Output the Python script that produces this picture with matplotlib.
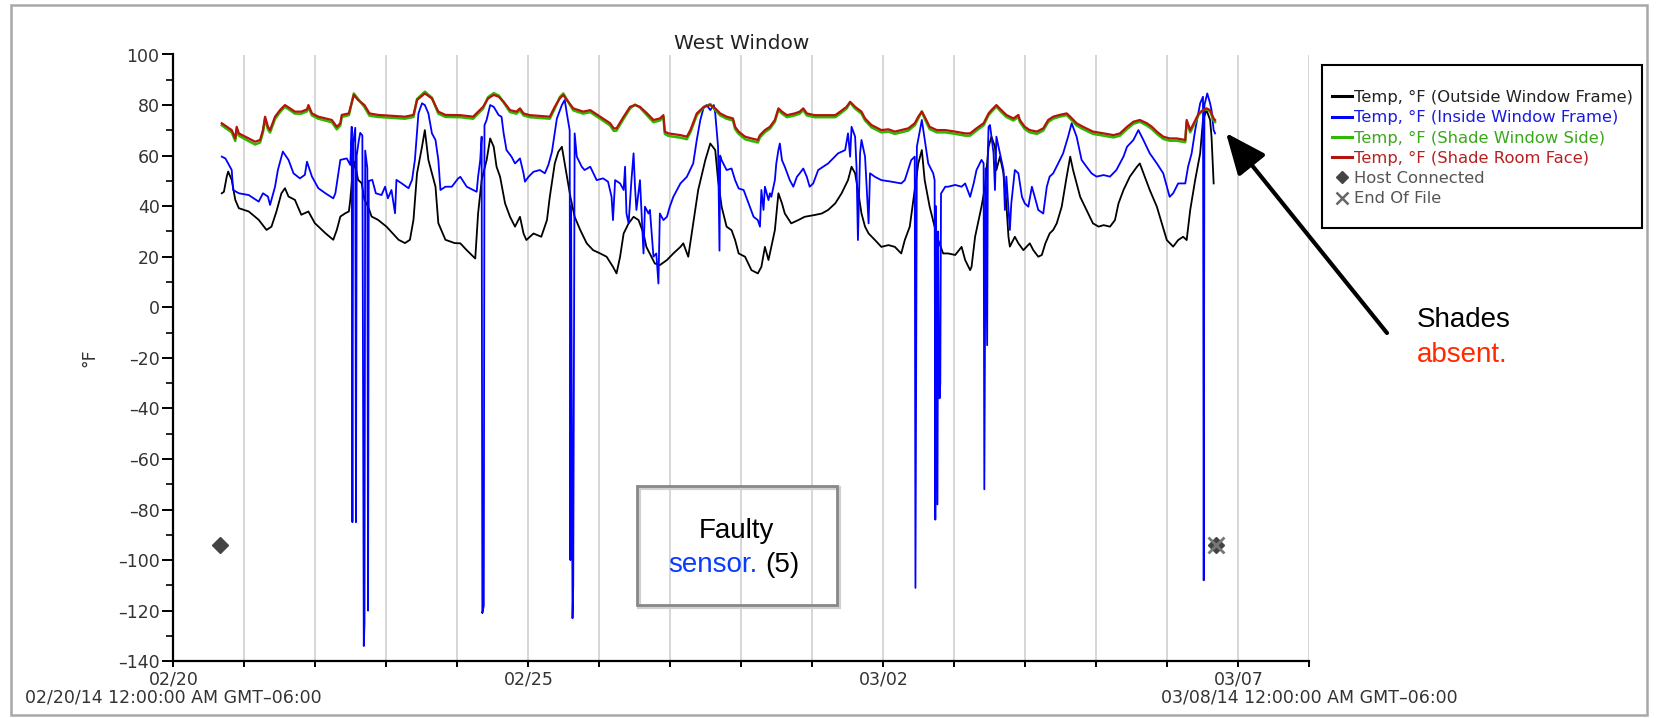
import numpy as np
import matplotlib
matplotlib.use("Agg")
import matplotlib.pyplot as plt
from matplotlib.lines import Line2D
from matplotlib.patches import Rectangle, FancyArrowPatch
from matplotlib.ticker import FixedLocator, MultipleLocator, FuncFormatter
from matplotlib.transforms import blended_transform_factory

# ---------------- data (days since 02/20/14 00:00, degrees F) ----------------
outside_days = [0.68, 0.71, 0.75, 0.77, 0.82, 0.87, 0.92, 1.06, 1.20, 1.31,
                1.38, 1.45, 1.52, 1.57, 1.62, 1.71, 1.80, 1.90, 1.99, 2.14,
                2.25, 2.30, 2.35, 2.42, 2.47, 2.49, 2.52, 2.55, 2.60, 2.65,
                2.69, 2.74, 2.79, 2.88, 3.00, 3.17, 3.26, 3.33, 3.38, 3.43,
                3.50, 3.54, 3.59, 3.69, 3.73, 3.83, 3.96, 4.04, 4.13, 4.25,
                4.29, 4.34, 4.41, 4.46, 4.51, 4.55, 4.60, 4.67, 4.74, 4.81,
                4.88, 4.93, 4.97, 5.07, 5.18, 5.26, 5.30, 5.37, 5.42, 5.47,
                5.51, 5.59, 5.65, 5.73, 5.82, 5.91, 6.01, 6.10, 6.19, 6.24,
                6.29, 6.34, 6.41, 6.48, 6.55, 6.62, 6.66, 6.73, 6.78, 6.85,
                6.95, 7.04, 7.14, 7.18, 7.25, 7.32, 7.39, 7.49, 7.56, 7.63,
                7.67, 7.72, 7.79, 7.86, 7.91, 7.96, 8.05, 8.14, 8.23, 8.28,
                8.33, 8.38, 8.42, 8.47, 8.52, 8.57, 8.61, 8.70, 8.80, 8.89,
                9.03, 9.13, 9.22, 9.32, 9.41, 9.50, 9.55, 9.60, 9.64, 9.69,
                9.74, 9.79, 9.88, 9.97, 10.07, 10.16, 10.25, 10.30, 10.37, 10.44,
                10.49, 10.54, 10.58, 10.65, 10.72, 10.77, 10.84, 10.91, 11.01, 11.10,
                11.15, 11.22, 11.24, 11.29, 11.34, 11.38, 11.43, 11.48, 11.52, 11.57,
                11.59, 11.64, 11.69, 11.73, 11.76, 11.78, 11.85, 11.90, 11.97, 12.06,
                12.11, 12.18, 12.23, 12.28, 12.34, 12.39, 12.44, 12.51, 12.58, 12.63,
                12.67, 12.77, 12.86, 12.95, 13.03, 13.10, 13.19, 13.26, 13.31, 13.38,
                13.47, 13.57, 13.61, 13.68, 13.75, 13.85, 13.92, 13.99, 14.08, 14.15,
                14.22, 14.27, 14.32, 14.39, 14.46, 14.50, 14.55, 14.60, 14.62, 14.65]
outside_vals = [45.1, 45.7, 51.7, 53.7, 50.4, 42.5, 39.2, 37.9, 34.6, 30.6,
                31.9, 37.9, 45.1, 47.1, 43.8, 42.5, 36.6, 37.9, 33.3, 29.3,
                26.7, 30.6, 35.9, 37.2, 37.9, 42.5, 52.4, 57.6, 50.4, 49.1,
                42.5, 39.9, 35.9, 34.6, 31.9, 26.7, 25.4, 26.7, 34.6, 53.0,
                63.5, 70.1, 58.3, 47.7, 33.3, 26.7, 25.4, 25.3, 22.6, 19.3,
                37.1, 50.3, 58.2, 66.8, 63.5, 55.6, 51.6, 41.1, 35.8, 31.9,
                35.8, 29.2, 26.6, 29.2, 27.9, 34.5, 43.7, 56.9, 61.5, 63.5,
                56.9, 43.7, 35.8, 30.5, 25.3, 22.6, 21.3, 20.0, 16.0, 13.4,
                20.0, 29.2, 33.2, 35.8, 34.5, 29.2, 23.9, 20.0, 17.3, 16.7,
                18.7, 21.3, 23.9, 25.3, 20.0, 33.2, 46.4, 58.2, 64.8, 62.2,
                50.3, 39.8, 31.9, 30.5, 26.6, 21.3, 20.0, 14.7, 13.4, 16.0,
                23.9, 18.7, 23.9, 30.5, 45.1, 41.1, 37.1, 33.2, 34.5, 35.8,
                36.5, 37.1, 38.5, 41.1, 45.1, 50.3, 55.6, 53.0, 46.4, 37.1,
                31.9, 29.2, 26.6, 23.9, 24.6, 23.9, 21.3, 26.6, 31.9, 46.4,
                56.9, 62.2, 50.3, 39.8, 31.9, 26.6, 21.3, 21.3, 20.7, 23.9,
                18.7, 14.7, 16.0, 27.9, 34.5, 39.8, 47.7, 63.5, 67.5, 63.5,
                54.3, 59.6, 53.0, 41.1, 27.9, 24.0, 27.9, 25.3, 22.6, 25.3,
                22.6, 20.0, 20.7, 25.3, 29.2, 30.6, 33.2, 39.8, 51.7, 59.6,
                54.3, 43.7, 38.5, 33.2, 31.9, 32.5, 31.9, 34.5, 41.1, 46.4,
                51.7, 55.6, 56.9, 51.7, 46.4, 39.8, 33.2, 26.6, 24.0, 26.6,
                27.9, 26.6, 38.5, 50.4, 60.9, 74.1, 78.0, 74.1, 67.5, 49.0]

inside_days = [0.68, 0.73, 0.77, 0.82, 0.84, 0.92, 1.06, 1.20, 1.26, 1.33,
               1.36, 1.43, 1.47, 1.54, 1.62, 1.69, 1.78, 1.85, 1.88, 1.95,
               2.04, 2.14, 2.25, 2.28, 2.35, 2.44, 2.49, 2.51, 2.52, 2.53,
               2.56, 2.57, 2.58, 2.61, 2.63, 2.66, 2.68, 2.69, 2.70, 2.73,
               2.74, 2.75, 2.80, 2.85, 2.93, 2.98, 3.02, 3.07, 3.12, 3.14,
               3.21, 3.31, 3.36, 3.40, 3.45, 3.50, 3.54, 3.59, 3.64, 3.69,
               3.73, 3.76, 3.83, 3.92, 4.01, 4.04, 4.13, 4.22, 4.27, 4.29,
               4.32, 4.34, 4.35, 4.37, 4.38, 4.41, 4.46, 4.51, 4.58, 4.62,
               4.65, 4.69, 4.76, 4.81, 4.88, 4.93, 4.95, 5.00, 5.07, 5.16,
               5.23, 5.28, 5.33, 5.40, 5.47, 5.51, 5.54, 5.58, 5.59, 5.60,
               5.62, 5.63, 5.65, 5.68, 5.75, 5.79, 5.87, 5.96, 6.05, 6.12,
               6.17, 6.19, 6.22, 6.29, 6.34, 6.36, 6.38, 6.41, 6.45, 6.48,
               6.50, 6.52, 6.57, 6.62, 6.64, 6.69, 6.71, 6.76, 6.80, 6.83,
               6.85, 6.90, 6.95, 6.99, 7.04, 7.14, 7.23, 7.32, 7.37, 7.42,
               7.47, 7.51, 7.56, 7.61, 7.63, 7.67, 7.69, 7.70, 7.72, 7.79,
               7.86, 7.91, 7.96, 8.03, 8.10, 8.17, 8.23, 8.26, 8.28, 8.31,
               8.33, 8.38, 8.40, 8.42, 8.47, 8.49, 8.52, 8.54, 8.57, 8.61,
               8.68, 8.73, 8.78, 8.82, 8.87, 8.92, 8.96, 9.01, 9.08, 9.22,
               9.36, 9.46, 9.50, 9.53, 9.55, 9.60, 9.62, 9.64, 9.67, 9.69,
               9.74, 9.79, 9.81, 9.88, 9.97, 10.11, 10.25, 10.30, 10.39, 10.44,
               10.45, 10.47, 10.54, 10.63, 10.70, 10.72, 10.73, 10.74, 10.76, 10.77,
               10.78, 10.79, 10.80, 10.81, 10.87, 10.91, 11.01, 11.10, 11.15, 11.22,
               11.27, 11.31, 11.38, 11.41, 11.42, 11.44, 11.46, 11.47, 11.48, 11.50,
               11.52, 11.55, 11.57, 11.59, 11.64, 11.69, 11.71, 11.73, 11.78, 11.80,
               11.85, 11.90, 11.95, 11.99, 12.04, 12.09, 12.13, 12.18, 12.25, 12.30,
               12.34, 12.39, 12.46, 12.53, 12.60, 12.65, 12.72, 12.79, 12.86, 12.93,
               13.00, 13.10, 13.19, 13.28, 13.38, 13.43, 13.52, 13.59, 13.66, 13.75,
               13.85, 13.94, 14.03, 14.08, 14.15, 14.25, 14.29, 14.34, 14.39, 14.46,
               14.50, 14.51, 14.52, 14.56, 14.60, 14.62, 14.65, 14.67]
inside_vals = [59.6, 58.9, 56.9, 54.3, 46.4, 45.1, 44.4, 41.8, 45.1, 43.8,
               40.5, 47.7, 54.3, 61.6, 58.3, 53.0, 51.0, 52.4, 57.6, 51.7,
               47.1, 45.1, 43.1, 45.1, 58.3, 58.9, 56.3, 71.4, -85.0, 65.0,
               71.0, -85.0, 60.0, 66.0, 69.0, 68.0, -134.0, -125.0, 62.0, 55.0,
               -120.0, 50.0, 50.4, 45.1, 44.4, 47.7, 43.1, 46.4, 37.2, 50.4,
               49.1, 47.1, 50.4, 58.3, 76.7, 80.7, 80.0, 76.7, 68.8, 66.2,
               58.3, 46.4, 47.7, 47.7, 51.0, 51.6, 47.7, 46.4, 45.7, 51.6,
               58.2, 67.5, -121.0, -118.0, 72.0, 74.1, 80.0, 79.3, 76.0, 75.4,
               68.8, 62.2, 59.6, 56.9, 58.9, 53.0, 49.7, 51.6, 53.6, 54.3,
               53.0, 56.3, 61.5, 74.7, 80.0, 82.0, 76.7, 70.0, -100.0, 40.0,
               -123.0, -110.0, 68.8, 59.6, 55.6, 54.3, 55.6, 50.3, 51.0, 49.7,
               43.7, 34.5, 50.3, 49.0, 46.4, 55.6, 37.1, 33.2, 50.3, 60.9,
               47.7, 38.5, 50.3, 21.3, 39.8, 37.1, 38.5, 20.0, 21.3, 9.4,
               37.1, 34.5, 35.8, 39.8, 43.7, 49.0, 51.6, 56.9, 66.2, 74.1,
               79.3, 80.0, 78.0, 80.0, 76.7, 63.5, 22.4, 60.0, 58.2, 54.3,
               54.9, 50.3, 47.0, 46.4, 41.1, 35.8, 34.5, 31.9, 46.4, 38.5,
               47.7, 42.4, 45.1, 43.7, 50.3, 56.9, 62.2, 64.8, 58.2, 55.6,
               50.3, 47.7, 51.6, 53.0, 54.9, 51.6, 47.7, 49.0, 54.3, 56.9,
               60.9, 62.2, 68.8, 59.6, 71.4, 67.5, 55.6, 26.6, 60.9, 66.2,
               59.6, 33.2, 53.0, 51.6, 50.3, 49.7, 49.0, 50.3, 58.2, 59.6,
               -111.0, 63.5, 74.1, 56.9, 53.0, 50.3, -84.0, 40.0, -78.0, 30.0,
               -20.0, -36.0, -30.0, 45.0, 47.7, 47.7, 48.4, 47.7, 49.0, 43.7,
               49.0, 54.3, 58.3, 57.0, -72.0, 55.0, -15.0, 62.0, 71.4, 72.1,
               67.5, 60.9, 46.4, 67.5, 60.9, 54.3, 38.5, 51.7, 30.6, 41.1,
               54.3, 53.0, 43.7, 41.1, 39.8, 47.7, 43.7, 38.5, 37.1, 47.7,
               51.7, 53.0, 56.9, 60.9, 67.5, 72.8, 67.5, 58.3, 55.6, 53.0,
               51.7, 52.3, 51.7, 54.3, 59.6, 63.5, 66.2, 70.1, 66.2, 60.9,
               56.9, 53.0, 43.7, 45.1, 49.0, 49.0, 55.6, 60.9, 70.1, 80.7,
               83.3, -108.0, 80.0, 84.6, 80.7, 78.0, 70.1, 68.8]

shade_days = [0.68, 0.82, 0.87, 0.89, 0.92, 1.01, 1.15, 1.22, 1.26, 1.29,
              1.33, 1.36, 1.43, 1.50, 1.57, 1.64, 1.71, 1.80, 1.88, 1.90,
              1.95, 2.04, 2.23, 2.30, 2.35, 2.37, 2.47, 2.54, 2.60, 2.69,
              2.76, 2.88, 3.26, 3.38, 3.43, 3.54, 3.64, 3.73, 3.83, 4.04,
              4.22, 4.36, 4.43, 4.51, 4.58, 4.65, 4.74, 4.83, 4.88, 4.93,
              5.02, 5.30, 5.37, 5.44, 5.49, 5.54, 5.63, 5.77, 5.87, 6.01,
              6.15, 6.20, 6.24, 6.34, 6.43, 6.50, 6.57, 6.67, 6.76, 6.85,
              6.90, 6.92, 6.97, 7.14, 7.23, 7.28, 7.37, 7.47, 7.56, 7.63,
              7.70, 7.79, 7.88, 7.91, 7.96, 8.05, 8.14, 8.23, 8.26, 8.33,
              8.40, 8.47, 8.52, 8.57, 8.64, 8.75, 8.82, 8.87, 8.92, 9.03,
              9.22, 9.32, 9.39, 9.48, 9.53, 9.60, 9.69, 9.74, 9.83, 9.97,
              10.07, 10.16, 10.25, 10.35, 10.44, 10.49, 10.54, 10.58, 10.65, 10.75,
              10.87, 11.01, 11.15, 11.22, 11.31, 11.41, 11.48, 11.52, 11.59, 11.66,
              11.73, 11.83, 11.90, 11.92, 11.99, 12.06, 12.16, 12.25, 12.32, 12.39,
              12.48, 12.58, 12.63, 12.72, 12.81, 12.95, 13.10, 13.24, 13.33, 13.43,
              13.52, 13.61, 13.71, 13.78, 13.85, 13.94, 14.03, 14.13, 14.25, 14.27,
              14.32, 14.37, 14.44, 14.50, 14.55, 14.60, 14.65, 14.67]
shade_room_vals = [72.8, 70.1, 66.8, 71.4, 68.8, 67.5, 65.5, 66.2, 70.1, 75.4,
                   71.4, 70.1, 75.4, 78.0, 80.0, 78.7, 77.4, 77.4, 78.3, 80.0,
                   76.7, 75.4, 74.1, 71.4, 72.8, 76.1, 76.7, 84.0, 82.0, 80.0,
                   76.7, 76.1, 75.4, 76.1, 82.0, 84.6, 82.6, 77.4, 76.1, 76.0,
                   75.4, 79.3, 82.6, 84.0, 83.3, 81.3, 78.0, 77.4, 78.7, 76.7,
                   76.0, 75.4, 79.3, 82.6, 84.0, 82.0, 78.7, 77.4, 78.0, 75.4,
                   72.8, 70.8, 70.8, 75.4, 79.3, 80.0, 79.3, 76.7, 74.1, 74.7,
                   76.0, 69.5, 68.8, 68.1, 67.5, 70.1, 76.7, 79.3, 80.0, 78.7,
                   76.7, 75.4, 74.7, 71.4, 69.5, 67.5, 66.8, 66.2, 68.1, 70.1,
                   71.4, 74.1, 78.7, 77.4, 76.0, 76.7, 77.4, 78.7, 76.7, 76.0,
                   76.0, 76.0, 77.4, 79.3, 81.3, 79.3, 77.4, 74.7, 72.1, 70.1,
                   70.4, 69.5, 70.1, 70.8, 72.8, 75.4, 77.4, 75.4, 71.4, 70.1,
                   70.1, 69.5, 68.8, 68.8, 70.8, 72.8, 76.7, 78.0, 80.0, 78.0,
                   76.1, 74.7, 76.1, 74.1, 71.4, 70.1, 69.5, 70.8, 74.1, 75.4,
                   76.1, 76.7, 75.4, 72.8, 71.4, 69.5, 68.8, 68.1, 68.8, 71.4,
                   73.4, 74.1, 72.8, 71.4, 69.5, 67.5, 66.8, 66.8, 66.2, 74.1,
                   70.1, 72.8, 76.7, 78.0, 78.7, 78.0, 74.7, 74.1]
shade_window_vals = [72.0, 69.2, 65.8, 70.5, 67.9, 66.5, 64.4, 65.2, 69.2, 74.6,
                     70.4, 69.1, 74.5, 77.2, 79.3, 78.0, 76.6, 76.6, 77.5, 79.3,
                     75.9, 74.6, 73.2, 70.4, 71.9, 75.3, 76.0, 84.6, 82.4, 79.2,
                     75.8, 75.3, 74.6, 75.3, 82.4, 85.3, 82.9, 76.6, 75.3, 75.2,
                     74.6, 78.6, 83.1, 84.7, 83.8, 81.0, 77.2, 76.6, 77.9, 75.9,
                     75.2, 74.6, 78.6, 83.1, 84.6, 82.2, 77.9, 76.6, 77.2, 74.6,
                     71.9, 69.8, 69.9, 74.6, 78.6, 80.2, 79.0, 75.9, 73.2, 73.9,
                     75.2, 68.6, 67.8, 67.1, 66.5, 69.2, 76.0, 79.1, 80.4, 78.0,
                     75.9, 74.6, 73.9, 70.5, 68.6, 66.5, 65.8, 65.2, 67.2, 69.3,
                     70.6, 73.4, 78.1, 76.6, 75.2, 75.9, 76.6, 78.0, 75.9, 75.2,
                     75.2, 75.2, 76.6, 78.6, 81.0, 78.6, 76.6, 73.9, 71.2, 69.2,
                     69.5, 68.6, 69.2, 69.9, 72.0, 74.7, 77.5, 74.6, 70.5, 69.2,
                     69.2, 68.6, 67.9, 67.9, 69.9, 72.0, 76.0, 77.3, 79.4, 77.2,
                     75.3, 73.9, 75.3, 73.3, 70.5, 69.2, 68.6, 69.9, 73.3, 74.6,
                     75.4, 76.0, 74.6, 71.9, 70.5, 68.6, 67.9, 67.2, 67.9, 70.5,
                     72.6, 73.4, 71.9, 70.5, 68.6, 66.6, 65.9, 65.9, 65.3, 73.3,
                     69.2, 72.0, 76.2, 78.0, 78.3, 77.5, 73.9, 73.3]

host_days = [0.65, 14.68]
host_vals = [-94.0, -94.0]
eof_days = [14.68]
eof_vals = [-94.0]

series_labels = ["Temp, \u00b0F (Outside Window Frame)",
                 "Temp, \u00b0F (Inside Window Frame)",
                 "Temp, \u00b0F (Shade Window Side)",
                 "Temp, \u00b0F (Shade Room Face)",
                 "Host Connected", "End Of File"]
tick_day_labels = {0: "02/20", 5: "02/25", 10: "03/02", 15: "03/07"}
range_start_label = "02/20/14 12:00:00 AM GMT\u201306:00"
range_end_label = "03/08/14 12:00:00 AM GMT\u201306:00"

# ---------------- figure ----------------
W, H = 1658, 718
plt.rcParams['font.family'] = ['DejaVu Sans']
fig = plt.figure(figsize=(W / 100, H / 100), dpi=100)
fig.patch.set_facecolor('white')


def fx(px):
    return px / W


def fy(py):
    return 1 - py / H


ax_l, ax_r, ax_t, ax_b = 173.5, 1309.5, 54.5, 661.2
ax = fig.add_axes([fx(ax_l), fy(ax_b), fx(ax_r - ax_l), (ax_b - ax_t) / H])

c_black, c_blue, c_green, c_red = '#000000', '#0000ff', '#2eb800', '#b3140c'

ax.plot(outside_days, outside_vals, color=c_black, lw=1.3, zorder=3)
ax.plot(inside_days, inside_vals, color=c_blue, lw=1.3, zorder=4)
ax.plot(shade_days, shade_window_vals, color=c_green, lw=1.8, zorder=5)
ax.plot(shade_days, shade_room_vals, color=c_red, lw=1.6, zorder=6)
ax.plot(host_days, host_vals, ls='none', marker='D', ms=8, color='#444444', zorder=7)
ax.plot(eof_days, eof_vals, ls='none', marker='x', ms=11, mew=2, color='#777777', zorder=8)

ax.set_xlim(0, 16)
ax.set_ylim(-140, 100)
for s in ('top', 'right'):
    ax.spines[s].set_visible(False)
for s in ('left', 'bottom'):
    ax.spines[s].set_linewidth(1.6)

ax.xaxis.set_major_locator(FixedLocator(list(range(17))))
ax.xaxis.set_major_formatter(FuncFormatter(lambda v, p: tick_day_labels.get(int(round(v)), "")))
ax.yaxis.set_major_locator(MultipleLocator(20))
ax.yaxis.set_minor_locator(MultipleLocator(10))
ax.yaxis.set_major_formatter(FuncFormatter(lambda v, p: f"{int(round(v))}".replace('-', '\u2013')))
ax.tick_params(axis='y', which='major', direction='out', length=8, width=1.4,
               labelsize=12.5, labelcolor='#333333', pad=2)
ax.tick_params(axis='y', which='minor', direction='out', length=5, width=1.2)
ax.tick_params(axis='x', which='major', direction='out', length=4, width=1.4,
               labelsize=12.5, labelcolor='#333333', pad=3)
ax.grid(axis='x', which='major', color='#d6d6d6', lw=1.4)
ax.set_axisbelow(True)

ax.set_title("West Window", fontsize=14.5, color='#222222', pad=4)
ax.set_ylabel("\u00b0F", fontsize=12.5, color='#333333')
ax.yaxis.set_label_coords((98 - ax_l) / (ax_r - ax_l), 0.5)

tr = blended_transform_factory(ax.transData, fig.transFigure)
ax.text(0, fy(698), range_start_label, transform=tr, ha='center', va='center',
        fontsize=12.5, color='#333333')
ax.text(16, fy(698), range_end_label, transform=tr, ha='center', va='center',
        fontsize=12.5, color='#333333')

# ---------------- legend ----------------
handles = [Line2D([], [], color=c_black, lw=2.2),
           Line2D([], [], color=c_blue, lw=2.2),
           Line2D([], [], color=c_green, lw=2.2),
           Line2D([], [], color=c_red, lw=2.2),
           Line2D([], [], ls='none', marker='D', ms=6, color='#444444'),
           Line2D([], [], ls='none', marker='x', ms=8, mew=1.8, color='#666666')]
leg = fig.legend(handles, series_labels, loc='upper left',
                 bbox_to_anchor=(fx(1332), fy(90)), frameon=False,
                 fontsize=11.8, handlelength=1.2, handletextpad=0.15,
                 labelspacing=0.32, borderpad=0, borderaxespad=0)
for t, c in zip(leg.get_texts(), ['#222222', '#1a1ae0', '#3aa81a', '#b82020', '#555555', '#555555']):
    t.set_color(c)
fig.add_artist(Rectangle((fx(1322), fy(228)), fx(320), 163 / H, transform=fig.transFigure,
                         fill=False, ec='black', lw=1.5))

# ---------------- outer frame ----------------
fig.add_artist(Rectangle((fx(11), fy(715)), fx(1636), 710 / H, transform=fig.transFigure,
                         fill=False, ec='#a8a8a8', lw=1.8))

# ---------------- annotations ----------------
fig.add_artist(Rectangle((fx(639), fy(607)), fx(200), 119 / H, transform=fig.transFigure,
                         fill=False, ec='#d0d0d0', lw=3))
fig.add_artist(Rectangle((fx(637), fy(605)), fx(200), 119 / H, transform=fig.transFigure,
                         fill=False, ec='#888888', lw=2))
fig.text(fx(736.7), fy(538), "Faulty", ha='center', va='baseline', fontsize=20,
         family='Liberation Sans', color='black')
fig.text(fx(668), fy(572), "sensor.", ha='left', va='baseline', fontsize=20,
         family='Liberation Sans', color='#0a3cff')
fig.text(fx(765), fy(572), "(5)", ha='left', va='baseline', fontsize=20,
         family='Liberation Sans', color='black')

fig.text(fx(1417), fy(327), "Shades", ha='left', va='baseline', fontsize=20,
         family='Liberation Sans', color='black')
fig.text(fx(1417), fy(362), "absent.", ha='left', va='baseline', fontsize=20,
         family='Liberation Sans', color='#ff2a00')

arrow = FancyArrowPatch((fx(1387), fy(333)), (fx(1226), fy(133)), transform=fig.transFigure,
                        arrowstyle='-|>,head_length=1.4,head_width=0.6', mutation_scale=18,
                        lw=3, color='black', shrinkA=0, shrinkB=0)
fig.add_artist(arrow)

fig.savefig("out.png", dpi=100)
